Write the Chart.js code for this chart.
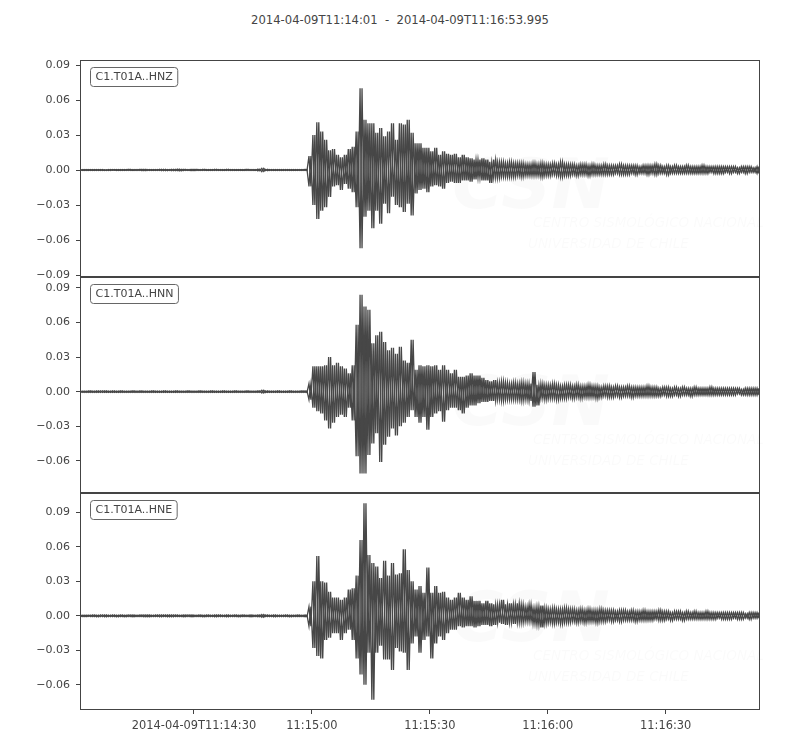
<!DOCTYPE html>
<html>
<head>
<meta charset="utf-8">
<script src="https://cdn.jsdelivr.net/npm/chart.js@4.4.1/dist/chart.umd.min.js"></script>
<style>
  body { margin: 0; background: #fff; width: 800px; height: 750px; position: relative; overflow: hidden; font-family: "DejaVu Sans", sans-serif; }
  #title { position: absolute; top: 13px; left: 0; width: 800px; text-align: center; font-size: 11.6px; color: #444; white-space: pre; }
  canvas { position: absolute; left: 0; }
</style>
</head>
<body>
<div id="title">2014-04-09T11:14:01  -  2014-04-09T11:16:53.995</div>
<canvas id="c0" width="800" height="257" style="top:40px"></canvas>
<canvas id="c1" width="800" height="256" style="top:257px"></canvas>
<canvas id="c2" width="800" height="277" style="top:473px"></canvas>
<script>
// seconds after 11:14:00, one bin per second, values in 1e-3 units (peak up / peak down)
const startSec = 1;
const endSec = 173.995;
const channels = ['C1.T01A..HNZ', 'C1.T01A..HNN', 'C1.T01A..HNE'];
const yLimits = [[-0.0917, 0.0943], [-0.0879, 0.0995], [-0.0819, 0.1069]];
const yTickValues = [-0.09, -0.06, -0.03, 0, 0.03, 0.06, 0.09];
const xTickValues = [30, 60, 90, 120, 150];
const xTickLabels = ['2014-04-09T11:14:30', '11:15:00', '11:15:30', '11:16:00', '11:16:30'];

const hnzUp = [
  0.4,0.5,0.4,0.4,0.5,0.4,0.3,0.5,0.4,0.4, 0.5,0.5,0.6,0.4,0.5,0.6,0.6,0.5,0.4,0.5,
  0.6,0.7,0.5,0.6,0.7,0.7,0.6,0.5,0.6,0.6, 0.5,0.6,0.4,0.5,0.6,0.5,0.4,0.6,0.5,0.4,
  0.5,0.4,0.6,0.5,0.4,0.8,1.4,0.6,0.5,0.4, 0.5,0.4,0.5,0.4,0.4,0.5,0.5,0.6,
  12,30,41,33,26,17,18,13,11,13, 18,20,33,70,43,40,40,32,36,29,
  33,40,26,40,39,43,32,23,23,19, 19,16,19,13,16,14,13,14,11,13,
  11,10,9,9,10,9,7,9,7,7, 6,7,6,6,6,5,5,
  6,5,6,5,5,6,5,7,5,5, 5,4,5,5,4,5,4,4,5,4, 4,4,5,4,4,4,4,3,4,4,
  4,5,4,3,4,3,4,3,3,4, 3,3,3,4,3,3,3,3,3,3, 3,3,2,3,3,3,2,3
];
const hnzDown = [
  -0.4,-0.4,-0.5,-0.4,-0.4,-0.5,-0.4,-0.4,-0.3,-0.4, -0.4,-0.5,-0.5,-0.4,-0.5,-0.5,-0.6,-0.5,-0.4,-0.5,
  -0.5,-0.6,-0.5,-0.6,-0.6,-0.7,-0.5,-0.5,-0.6,-0.5, -0.5,-0.5,-0.4,-0.5,-0.5,-0.5,-0.4,-0.5,-0.5,-0.4,
  -0.4,-0.4,-0.5,-0.5,-0.4,-0.7,-1.3,-0.6,-0.4,-0.4, -0.4,-0.4,-0.5,-0.4,-0.4,-0.4,-0.5,-0.5,
  -14,-30,-42,-35,-32,-23,-14,-13,-17,-12, -16,-19,-32,-67,-40,-35,-50,-35,-46,-29,
  -37,-23,-30,-32,-36,-29,-39,-20,-17,-16, -19,-14,-13,-14,-16,-11,-10,-11,-11,-9,
  -9,-10,-8,-7,-9,-9,-11,-7,-7,-6, -6,-6,-6,-5,-6,-5,-5,
  -5,-5,-6,-5,-5,-4,-5,-6,-5,-5, -4,-5,-4,-4,-5,-4,-4,-4,-4,-4, -4,-3,-4,-4,-4,-3,-4,-3,-3,-4,
  -3,-4,-3,-3,-4,-3,-3,-3,-3,-3, -3,-3,-3,-3,-3,-2,-3,-3,-3,-2, -3,-2,-3,-2,-3,-2,-2,-3
];
const hnnUp = [
  0.6,0.6,0.7,0.6,0.7,0.8,0.7,0.6,0.7,0.6, 0.7,0.6,0.6,0.7,0.6,0.7,0.6,0.6,0.7,0.6,
  0.6,0.7,0.6,0.6,0.7,0.6,0.6,0.7,0.6,0.6, 0.7,0.6,0.6,0.7,0.6,0.6,0.7,0.6,0.6,0.7,
  0.6,0.6,0.7,0.6,0.6,0.7,1.2,0.7,0.6,0.6, 0.7,0.6,0.6,0.7,0.6,0.6,0.7,0.7,
  7,22,22,22,23,30,23,25,22,20, 16,23,58,84,74,71,42,49,52,43,
  36,38,33,39,27,25,45,19,23,22, 23,22,23,19,23,19,16,19,13,13,
  14,16,14,14,12,10,9,10,8,9, 8,7,8,7,8,7,7,
  17,6,7,6,6,7,6,5,6,6, 5,6,5,5,6,5,5,4,5,5, 4,5,4,4,5,4,4,4,4,5,
  4,4,3,4,4,3,4,3,4,3, 3,4,3,3,3,4,3,3,3,3, 3,3,3,2,3,3,3,3
];
const hnnDown = [
  -0.6,-0.7,-0.6,-0.6,-0.7,-0.7,-0.6,-0.6,-0.7,-0.6, -0.6,-0.7,-0.6,-0.6,-0.6,-0.7,-0.6,-0.7,-0.6,-0.6,
  -0.7,-0.6,-0.6,-0.7,-0.6,-0.6,-0.7,-0.6,-0.6,-0.7, -0.6,-0.6,-0.7,-0.6,-0.6,-0.7,-0.6,-0.6,-0.7,-0.6,
  -0.6,-0.7,-0.6,-0.6,-0.7,-0.6,-1.1,-0.7,-0.6,-0.6, -0.6,-0.7,-0.6,-0.6,-0.7,-0.6,-0.6,-0.7,
  -7,-14,-17,-19,-25,-32,-27,-22,-20,-22, -14,-25,-56,-71,-71,-55,-45,-36,-61,-46,
  -39,-32,-38,-30,-27,-22,-16,-22,-27,-22, -33,-22,-19,-17,-26,-16,-14,-14,-16,-19,
  -14,-12,-12,-10,-9,-9,-8,-8,-7,-8, -7,-7,-7,-7,-8,-7,-8,
  -13,-12,-6,-7,-6,-6,-7,-6,-6,-5, -6,-5,-6,-5,-5,-5,-6,-5,-4,-5, -5,-4,-5,-4,-4,-5,-4,-4,-4,-4,
  -4,-4,-4,-3,-4,-4,-3,-4,-3,-3, -4,-3,-3,-3,-3,-3,-3,-3,-3,-3, -3,-3,-2,-3,-3,-3,-3,-3
];
const hneUp = [
  0.7,0.6,0.7,0.8,0.7,0.9,0.8,0.7,0.8,0.7, 0.8,0.7,0.9,0.8,0.7,0.8,0.9,0.8,0.7,0.8,
  0.9,0.8,0.8,0.9,0.8,0.7,0.8,0.9,0.8,0.7, 0.8,0.7,0.8,0.7,0.8,0.8,0.7,0.8,0.7,0.8,
  0.7,0.8,0.7,0.8,0.7,0.9,1.2,0.8,0.7,0.8, 0.7,0.7,0.8,0.7,0.7,0.8,0.7,0.8,
  8,30,52,30,29,21,16,16,14,16, 23,24,35,66,98,53,46,43,33,48,
  35,46,36,37,58,40,30,23,26,20, 42,20,26,20,21,16,14,16,20,16,
  14,17,13,13,11,13,11,10,10,14, 10,11,10,11,10,8,10,
  7,8,9,7,6,7,6,6,7,6, 6,5,6,5,6,5,5,6,5,5, 5,4,5,5,4,5,4,4,5,4,
  4,4,5,4,4,3,4,4,3,4, 3,4,3,3,4,3,3,3,3,3, 3,3,3,3,2,3,3,3
];
const hneDown = [
  -0.7,-0.7,-0.6,-0.7,-0.8,-0.7,-0.8,-0.7,-0.7,-0.8, -0.7,-0.8,-0.7,-0.8,-0.7,-0.7,-0.8,-0.8,-0.7,-0.7,
  -0.8,-0.7,-0.8,-0.8,-0.7,-0.7,-0.8,-0.7,-0.8,-0.7, -0.7,-0.8,-0.7,-0.7,-0.8,-0.7,-0.7,-0.8,-0.7,-0.7,
  -0.8,-0.7,-0.7,-0.8,-0.7,-0.8,-1.1,-0.7,-0.7,-0.8, -0.7,-0.7,-0.7,-0.8,-0.7,-0.7,-0.7,-0.8,
  -9,-28,-35,-37,-21,-19,-15,-15,-21,-15, -12,-21,-37,-51,-60,-32,-73,-32,-26,-38,
  -38,-47,-28,-31,-32,-47,-24,-18,-32,-21, -18,-37,-24,-18,-21,-15,-12,-12,-9,-10,
  -9,-9,-10,-9,-8,-8,-9,-8,-6,-7, -8,-6,-7,-6,-6,-5,-5,
  -7,-8,-10,-7,-6,-7,-6,-7,-6,-6, -5,-6,-5,-6,-5,-5,-6,-5,-5,-4, -5,-4,-5,-4,-4,-4,-5,-4,-4,-4,
  -4,-3,-4,-4,-3,-4,-3,-3,-4,-3, -3,-3,-3,-3,-3,-3,-3,-2,-3,-3, -3,-2,-3,-3,-2,-3,-2,-2
];

const traces = [[hnzUp, hnzDown], [hnnUp, hnnDown], [hneUp, hneDown]];
const ink = '#444';
const waveColor = '#474747';

// peak-to-peak zigzag per one-second bin; phase 0 = up first, phase 1 = down first
function zigzag(up, down, phase) {
  const pts = [];
  for (let i = 0; i < up.length; i++) {
    const t = startSec + i;
    const a = phase ? down[i] : up[i];
    const b = phase ? up[i] : down[i];
    pts.push({ x: t + 0.25, y: a / 1000 });
    pts.push({ x: t + 0.75, y: b / 1000 });
  }
  return pts;
}

const framePlugin = {
  id: 'frame',
  beforeDatasetsDraw(chart) {
    // faint CSN watermark
    const a = chart.chartArea, ctx = chart.ctx;
    ctx.save();
    ctx.fillStyle = 'rgba(0,0,0,0.02)';
    ctx.font = 'italic bold 70px "DejaVu Sans"';
    ctx.textBaseline = 'alphabetic';
    ctx.fillText('CSN', a.left + 372, a.top + 148);
    ctx.font = 'italic 13.5px "DejaVu Sans"';
    ctx.fillText('CENTRO SISMOLÓGICO NACIONAL', a.left + 453, a.top + 167);
    ctx.fillText('UNIVERSIDAD DE CHILE', a.left + 448, a.top + 188);
    ctx.restore();
  },
  afterDraw(chart) {
    const a = chart.chartArea, ctx = chart.ctx;
    ctx.save();
    ctx.strokeStyle = ink;
    ctx.lineWidth = 1;
    ctx.strokeRect(Math.round(a.left) + 0.5, Math.round(a.top) + 0.5,
      Math.round(a.right - a.left) - 1, Math.round(a.bottom - a.top) - 1);
    // station label box
    const label = chart.options.plugins.traceLabel;
    ctx.font = '11px "DejaVu Sans"';
    const w = ctx.measureText(label).width + 10;
    const bx = Math.round(a.left) + 10.5, by = Math.round(a.top) + 7.5, bh = 19;
    ctx.beginPath();
    ctx.roundRect(bx, by, w, bh, 3);
    ctx.fillStyle = '#fff';
    ctx.fill();
    ctx.strokeStyle = '#666';
    ctx.stroke();
    ctx.fillStyle = ink;
    ctx.textBaseline = 'middle';
    ctx.fillText(label, bx + 5, by + bh / 2 + 0.5);
    ctx.restore();
  }
};

function yTickLabel(v) {
  const s = Math.abs(v).toFixed(2);
  return v < -1e-9 ? '\u2212' + s : s;
}

channels.forEach((name, k) => {
  const last = k === channels.length - 1;
  const [lo, hi] = yLimits[k];
  const wave = phase => ({
    data: zigzag(traces[k][0], traces[k][1], phase),
    borderColor: waveColor,
    borderWidth: 1.3,
    pointRadius: 0,
    tension: 0,
    fill: false
  });
  new Chart(document.getElementById('c' + k), {
    type: 'line',
    data: { datasets: [wave(0), wave(1)] },
    options: {
      responsive: false,
      animation: false,
      events: [],
      layout: { padding: { left: 0, right: 40, top: 20, bottom: last ? 0 : 20 } },
      plugins: {
        legend: { display: false },
        tooltip: { enabled: false },
        traceLabel: name
      },
      scales: {
        x: {
          type: 'linear',
          min: startSec,
          max: endSec,
          display: last,
          border: { display: false },
          grid: { display: true, drawOnChartArea: false, drawTicks: true, tickLength: 4, color: ink },
          afterBuildTicks: s => { s.ticks = xTickValues.map(v => ({ value: v })); },
          afterFit: s => { if (last) s.height = 40; },
          ticks: {
            color: ink,
            padding: 5,
            maxRotation: 0,
            autoSkip: false,
            font: { family: 'DejaVu Sans', size: 11.4 },
            callback: v => xTickLabels[xTickValues.indexOf(v)]
          }
        },
        y: {
          type: 'linear',
          min: lo,
          max: hi,
          border: { display: false },
          grid: { display: true, drawOnChartArea: false, drawTicks: true, tickLength: 4, color: ink },
          afterBuildTicks: s => { s.ticks = yTickValues.filter(v => v >= lo && v <= hi).map(v => ({ value: v })); },
          afterFit: s => { s.width = 80; },
          ticks: {
            color: ink,
            padding: 6,
            font: { family: 'DejaVu Sans', size: 11 },
            callback: v => yTickLabel(v)
          }
        }
      }
    },
    plugins: [framePlugin]
  });
});
</script>
</body>
</html>
